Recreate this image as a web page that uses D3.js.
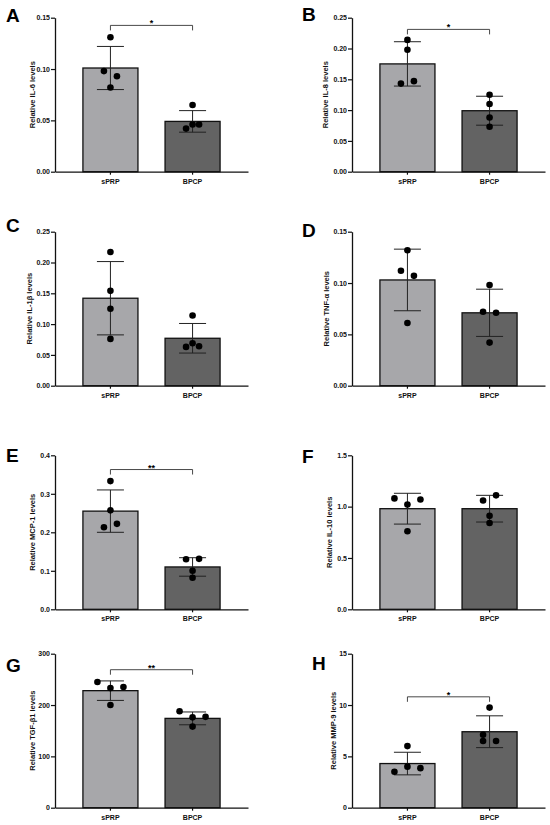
<!DOCTYPE html>
<html>
<head>
<meta charset="utf-8">
<script src="https://cdn.jsdelivr.net/npm/d3@7"></script>
<style>
  body { margin: 0; background: #fff; }
  svg text { font-family: "Liberation Sans", Arial, sans-serif; font-weight: bold; }
</style>
</head>
<body>
<div id="chart"></div>
<script>
// data (mean, SD, 4 replicates per group)
const groups = ['sPRP', 'BPCP'];
const letters = ['A', 'B', 'C', 'D', 'E', 'F', 'G', 'H'];
const yLabels = ['Relative IL-6 levels', 'Relative IL-8 levels', 'Relative IL-1β levels', 'Relative TNF-α levels',
                 'Relative MCP-1 levels', 'Relative IL-10 levels', 'Relative TGF-β1 levels', 'Relative MMP-9 levels'];
const yMaxes = [0.15, 0.25, 0.25, 0.15, 0.4, 1.5, 300, 15];
const yTicks = [
  [0, 0.05, 0.10, 0.15],
  [0, 0.05, 0.10, 0.15, 0.20, 0.25],
  [0, 0.05, 0.10, 0.15, 0.20, 0.25],
  [0, 0.05, 0.10, 0.15],
  [0, 0.1, 0.2, 0.3, 0.4],
  [0, 0.5, 1.0, 1.5],
  [0, 100, 200, 300],
  [0, 5, 10, 15]
];
const tickFormats = ['.2f', '.2f', '.2f', '.2f', '.1f', '.1f', 'd', 'd'];

const meanSPRP = [0.101, 0.175, 0.142, 0.103, 0.255, 0.98, 228, 4.3];
const sdSPRP   = [0.021, 0.036, 0.0595, 0.030, 0.055, 0.15, 19, 1.1];
const meanBPCP = [0.049, 0.099, 0.077, 0.071, 0.110, 0.98, 174, 7.4];
const sdBPCP   = [0.0105, 0.0235, 0.024, 0.023, 0.024, 0.13, 12.5, 1.55];

const dotsSPRP = [[0.131, 0.098, 0.093, 0.082], [0.214, 0.198, 0.143, 0.147], [0.217, 0.154, 0.125, 0.076],
                  [0.132, 0.112, 0.107, 0.061], [0.333, 0.257, 0.213, 0.222], [1.08, 1.02, 1.07, 0.76],
                  [245, 233, 235, 200], [6.0, 4.0, 3.85, 3.5]];
const dotsBPCP = [[0.065, 0.042, 0.046, 0.046], [0.125, 0.110, 0.088, 0.073], [0.114, 0.069, 0.063, 0.064],
                  [0.098, 0.072, 0.071, 0.042], [0.130, 0.131, 0.100, 0.082], [1.06, 1.11, 0.91, 0.84],
                  [188, 176, 177, 158], [9.75, 7.1, 6.5, 6.5]];
// horizontal spread of the dots, in dot-radius steps
const jitterSPRP = [[0, -1, 1, 0], [0, 0, -1, 1], [0, 0, 0, 0], [0, -1, 1, 0], [0, 0, -1, 1], [-2, 0, 2, 0], [-2, 0, 2, 0], [0, 0, 2, -2]];
const jitterBPCP = [[0, -1, 0, 1], [0, 0, 0, 0], [0, 0, -1, 1], [0, -1, 1, 0], [-1, 1, 0, 0], [-1, 1, 0, 0], [-2, 0, 2, 0], [0, -1, -1, 1]];

const sigLevels = [0.1425, 0.231, null, null, 0.363, null, 268.8, 10.8];
const sigLabels = ['*', '*', '', '', '**', '', '**', '*'];

// layout
const W = 550, H = 825;
const colAxisX = [55, 352];
const rowBottom = [171.7, 385.7, 609.3, 807.7];
const plotH = 154, plotW = 193;
const letterX = [6, 302, 6, 302, 6, 302, 6, 312];
const letterY = [21.7, 20.7, 231.5, 236.5, 461.5, 463, 671.5, 670];
const yLabelOff = [20.5, 24.5, 23.5, 23, 20.5, 20, 20.5, 16];
const barFill = ['#a7a7aa', '#636363'];
const jitStep = 6.5;

const svg = d3.select('#chart').append('svg')
  .attr('width', W).attr('height', H)
  .attr('viewBox', [0, 0, W, H]);

letters.forEach((letter, i) => {
  const col = i % 2, row = Math.floor(i / 2);
  const ax = colAxisX[col], bottom = rowBottom[row], top = bottom - plotH;

  const y = d3.scaleLinear().domain([0, yMaxes[i]]).range([bottom, top]);
  const x = d3.scaleBand().domain(groups).range([ax, ax + plotW])
    .paddingInner(0.33).paddingOuter(0.34);
  const bw = x.bandwidth();

  const g = svg.append('g').attr('class', 'panel');

  const means = [meanSPRP[i], meanBPCP[i]];
  const sds = [sdSPRP[i], sdBPCP[i]];
  const dots = [dotsSPRP[i], dotsBPCP[i]];
  const jit = [jitterSPRP[i], jitterBPCP[i]];

  groups.forEach((grp, k) => {
    const cx = x(grp) + bw / 2;
    g.append('rect')
      .attr('x', x(grp)).attr('y', y(means[k]))
      .attr('width', bw).attr('height', y(0) - y(means[k]))
      .attr('fill', barFill[k]).attr('stroke', '#111').attr('stroke-width', 1.3);

    const hi = y(means[k] + sds[k]), lo = y(means[k] - sds[k]);
    g.append('line').attr('x1', cx).attr('x2', cx).attr('y1', hi).attr('y2', lo)
      .attr('stroke', '#222').attr('stroke-width', 1);
    [hi, lo].forEach(v => {
      g.append('line').attr('x1', cx - 13.5).attr('x2', cx + 13.5).attr('y1', v).attr('y2', v)
        .attr('stroke', '#222').attr('stroke-width', 1);
    });

    g.selectAll(null).data(dots[k]).enter().append('circle')
      .attr('cx', (d, j) => cx + jit[k][j] * jitStep)
      .attr('cy', d => y(d))
      .attr('r', 3.3)
      .attr('fill', '#000');
  });

  // significance bracket
  if (sigLevels[i] !== null) {
    const by = y(sigLevels[i]);
    const x1 = x(groups[0]) + bw / 2, x2 = x(groups[1]) + bw / 2;
    g.append('path')
      .attr('d', `M${x1},${by + 5}V${by}H${x2}V${by + 5}`)
      .attr('fill', 'none').attr('stroke', '#333').attr('stroke-width', 0.9);
    g.append('text')
      .attr('x', (x1 + x2) / 2).attr('y', by + 1)
      .attr('text-anchor', 'middle').attr('font-size', 9)
      .text(sigLabels[i]);
  }

  // axes
  const yAxis = g.append('g')
    .attr('transform', `translate(${ax},0)`)
    .call(d3.axisLeft(y).tickValues(yTicks[i]).tickFormat(d3.format(tickFormats[i]))
      .tickSize(4).tickSizeOuter(0).tickPadding(1));
  const xAxis = g.append('g')
    .attr('transform', `translate(0,${bottom})`)
    .call(d3.axisBottom(x).tickSize(3).tickSizeOuter(0).tickPadding(4));
  [yAxis, xAxis].forEach(a => {
    a.select('.domain').attr('stroke', '#111').attr('stroke-width', 1.3);
    a.selectAll('.tick line').attr('stroke', '#111').attr('stroke-width', 1.2);
    a.selectAll('.tick text').attr('fill', '#111').attr('font-size', 7)
      .style('font-family', '"Liberation Sans", Arial, sans-serif').style('font-weight', 'bold');
  });

  g.append('text')
    .attr('transform', `translate(${ax - yLabelOff[i]},${(top + bottom) / 2}) rotate(-90)`)
    .attr('text-anchor', 'middle').attr('font-size', 7.5).attr('fill', '#111')
    .text(yLabels[i]);

  g.append('text')
    .attr('x', letterX[i]).attr('y', letterY[i])
    .attr('font-size', 19).attr('fill', '#000')
    .text(letter);
});
</script>
</body>
</html>
